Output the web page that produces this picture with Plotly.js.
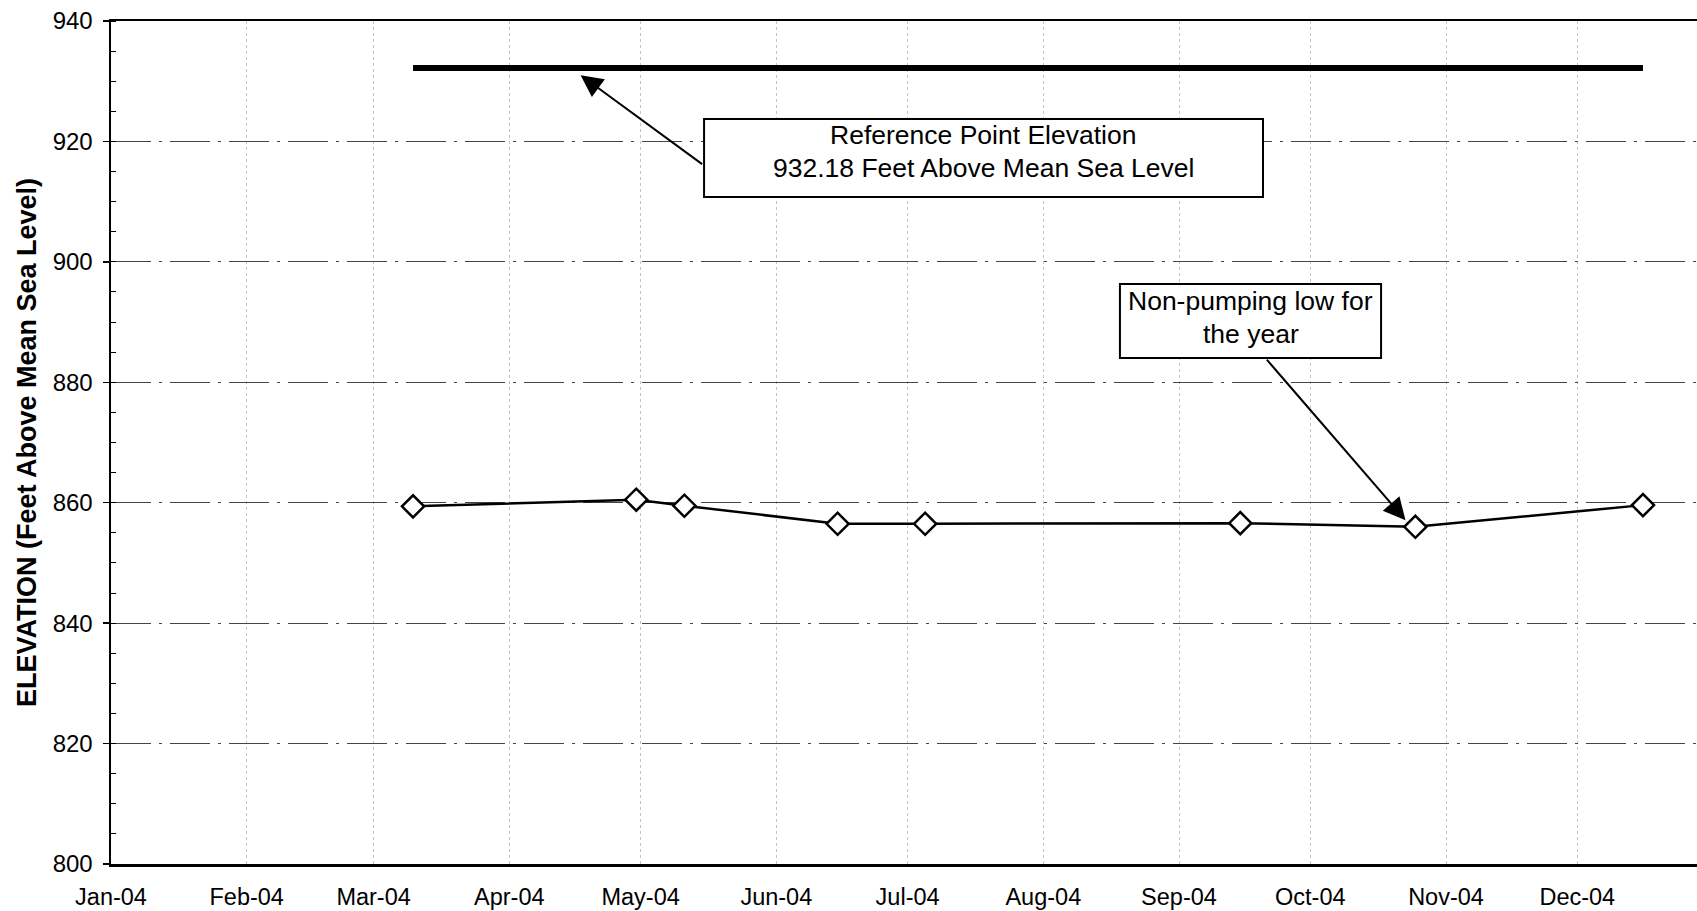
<!DOCTYPE html>
<html>
<head>
<meta charset="utf-8">
<script src="https://cdn.plot.ly/plotly-3.0.1.min.js"></script>
<style>
html, body { margin: 0; padding: 0; overflow: hidden; background: #fff; }
#chart { width: 1760px; height: 911px; }
</style>
</head>
<body>
<div id="chart"></div>
<script>
// Measured water level elevations (feet above mean sea level)
const sampleDates = ['2004-03-10', '2004-04-30', '2004-05-11', '2004-06-15', '2004-07-05', '2004-09-15', '2004-10-25', '2004-12-16'];
const elevations = [859.4, 860.5, 859.5, 856.5, 856.5, 856.6, 856.0, 859.6];

// Reference point elevation line
const refDates = ['2004-03-10', '2004-12-16'];
const refElevation = [932.18, 932.18];

// Tick labels
const monthTicks = ['2004-01-01', '2004-02-01', '2004-03-01', '2004-04-01', '2004-05-01', '2004-06-01',
                    '2004-07-01', '2004-08-01', '2004-09-01', '2004-10-01', '2004-11-01', '2004-12-01'];
const monthLabels = ['Jan-04', 'Feb-04', 'Mar-04', 'Apr-04', 'May-04', 'Jun-04',
                     'Jul-04', 'Aug-04', 'Sep-04', 'Oct-04', 'Nov-04', 'Dec-04'];
const yTicks = [800, 820, 840, 860, 880, 900, 920, 940];

// Annotation texts
const refBoxLines = ['Reference Point Elevation', '932.18 Feet Above Mean Sea Level'];
const lowBoxLines = ['Non-pumping low for', 'the year'];

const FONT = '"Liberation Sans", Arial, sans-serif';
const annFont = { family: FONT, size: 26.5, color: '#000' };

const traces = [
  {
    x: refDates, y: refElevation, type: 'scatter', mode: 'lines',
    line: { color: '#000', width: 6 }, hoverinfo: 'skip', showlegend: false
  },
  {
    x: sampleDates, y: elevations, type: 'scatter', mode: 'lines+markers',
    line: { color: '#000', width: 2.5 },
    marker: { symbol: 'diamond', size: 17, color: '#fff', line: { color: '#000', width: 2.5 } },
    showlegend: false
  }
];

function textLine(txt, x, y) {
  return { xref: 'paper', yref: 'paper', x: x, y: y, xanchor: 'center', yanchor: 'middle',
           text: txt, showarrow: false, font: annFont, borderpad: 0 };
}

const layout = {
  width: 1760, height: 911,
  margin: { l: 111, r: 47, t: 21, b: 47 },
  paper_bgcolor: '#fff', plot_bgcolor: '#fff',
  font: { family: FONT, color: '#000', size: 23 },
  showlegend: false,
  xaxis: {
    type: 'date', range: ['2004-01-01', '2005-01-01'],
    tickvals: monthTicks, ticktext: monthLabels,
    tickfont: { family: FONT, size: 23.5, color: '#000' },
    ticks: '', ticklabelstandoff: 10,
    showline: true, linecolor: '#000', linewidth: 2.5, mirror: true,
    showgrid: true, gridcolor: '#c4c4c4', gridwidth: 1, griddash: 'dot',
    zeroline: false, fixedrange: true
  },
  yaxis: {
    range: [800, 940], tickvals: yTicks,
    tickfont: { family: FONT, size: 24, color: '#000' },
    ticks: 'outside', ticklen: 6, tickcolor: '#000', tickwidth: 1.5,
    ticklabelstandoff: 5,
    minor: { dtick: 5, ticks: 'inside', ticklen: 5, tickcolor: '#000', tickwidth: 1, showgrid: false },
    showline: true, linecolor: '#000', linewidth: 2.5, mirror: true,
    showgrid: true, gridcolor: '#444', gridwidth: 1, griddash: '40px,8px,3px,8px',
    zeroline: false, fixedrange: true,
    title: { text: 'ELEVATION (Feet Above Mean Sea Level)', font: { family: FONT, size: 27, color: '#000', weight: 'bold' }, standoff: 8 }
  },
  shapes: [
    { type: 'rect', xref: 'paper', yref: 'paper', x0: 0.3702, x1: 0.7191, y0: 0.7912, y1: 0.8837,
      line: { color: '#000', width: 2 }, fillcolor: '#fff', layer: 'above' },
    { type: 'rect', xref: 'paper', yref: 'paper', x0: 0.6298, x1: 0.7928, y0: 0.6002, y1: 0.6880,
      line: { color: '#000', width: 2 }, fillcolor: '#fff', layer: 'above' }
  ],
  annotations: [
    textLine(refBoxLines[0], 0.5446, 0.8648),
    textLine(refBoxLines[1], 0.5446, 0.8256),
    textLine(lowBoxLines[0], 0.7113, 0.6679),
    textLine(lowBoxLines[1], 0.7113, 0.6287),
    {
      xref: 'x', yref: 'y', x: '2004-04-17 07:00', y: 931.0, text: '',
      showarrow: true, arrowhead: 2, arrowsize: 2.2, arrowwidth: 2, arrowcolor: '#000',
      ax: 123, ay: 90, axref: 'pixel', ayref: 'pixel'
    },
    {
      xref: 'x', yref: 'y', x: '2004-10-22 18:00', y: 857.1, text: '',
      showarrow: true, arrowhead: 2, arrowsize: 2.2, arrowwidth: 2, arrowcolor: '#000',
      ax: -140, ay: -162, axref: 'pixel', ayref: 'pixel'
    }
  ]
};

Plotly.newPlot('chart', traces, layout, { displayModeBar: false, staticPlot: true });
</script>
</body>
</html>
